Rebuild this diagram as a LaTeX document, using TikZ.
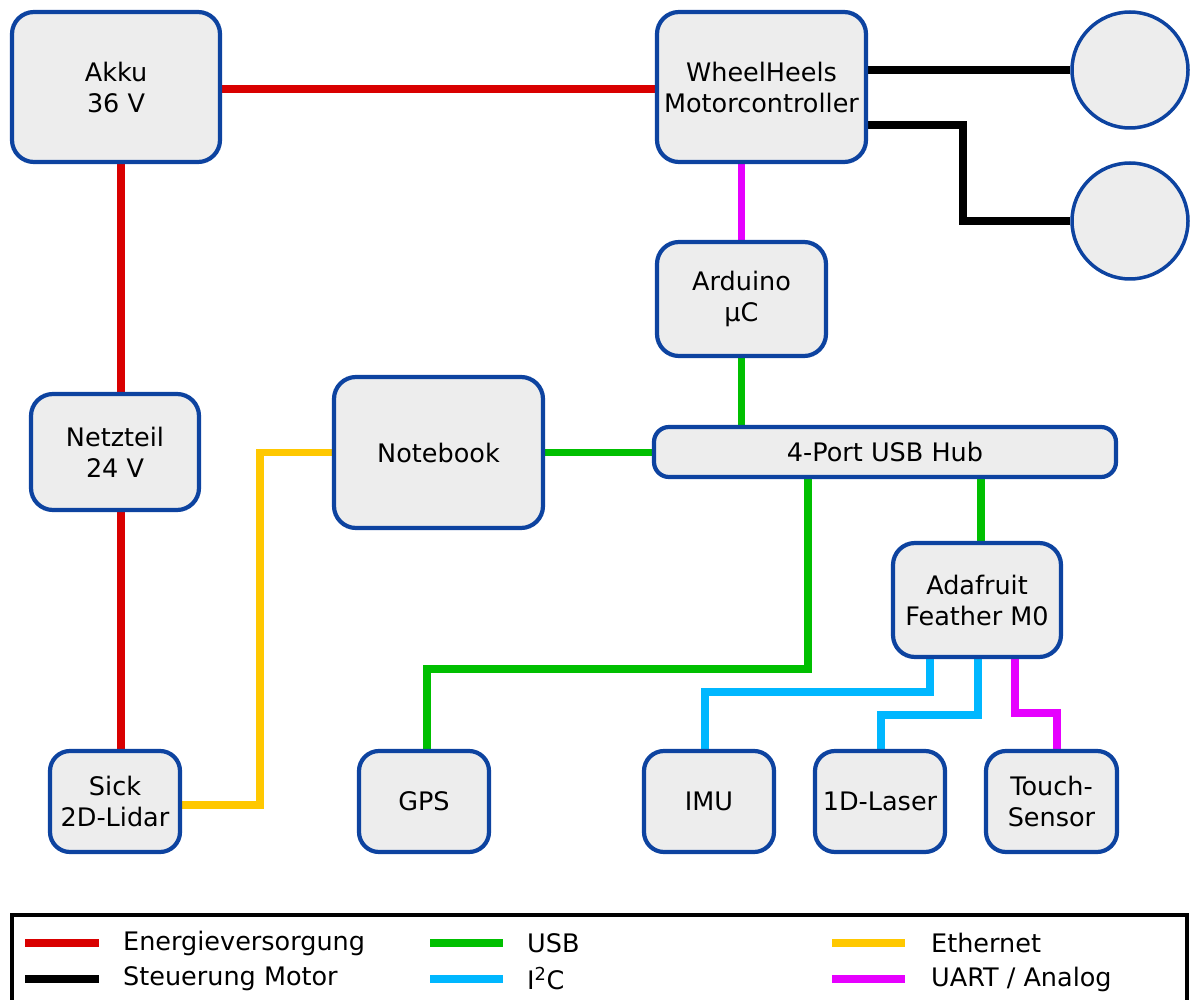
\documentclass[tikz,border=0pt]{standalone}
\usepackage{fontspec}
\setmainfont{DejaVu Sans}
\usetikzlibrary{backgrounds}
\definecolor{bordblue}{HTML}{0D43A0}
\definecolor{boxfill}{HTML}{EDEDED}
\definecolor{cred}{HTML}{D90000}
\definecolor{cgreen}{HTML}{00BF00}
\definecolor{ccyan}{HTML}{00B7FF}
\definecolor{corange}{HTML}{FFC800}
\definecolor{cmag}{HTML}{E600FF}
\begin{document}
\begin{tikzpicture}[x=1pt,y=-1pt,
  box/.style={draw=bordblue, fill=boxfill, line width=4.2pt, rounded corners=22pt,
    inner sep=0pt, align=center, font=\fontsize{25.5}{31}\selectfont},
  wheel/.style={draw=bordblue, fill=boxfill, line width=3.5pt, circle, inner sep=0pt, minimum size=116pt},
  wire/.style={line width=7.5pt, line join=miter},
  legline/.style={line width=7.5pt},
  legtext/.style={anchor=west, inner sep=0pt, font=\fontsize{25.5}{30}\selectfont}]
\useasboundingbox (0,0) rectangle (1192,1000);
\clip (0,0) rectangle (1192,1000);

% bend coordinates
\coordinate (r89) at (0,89);
\coordinate (rx) at (121,0);
\coordinate (b1) at (963,125);
\coordinate (b2) at (963,221);
\coordinate (o1) at (260,805);
\coordinate (o2) at (260,452.5);
\coordinate (g1) at (808,669);
\coordinate (g2) at (427,669);
\coordinate (a1) at (981,0);
\coordinate (c1a) at (930,692);
\coordinate (c1b) at (705,692);
\coordinate (c2a) at (978,715);
\coordinate (c2b) at (881,715);
\coordinate (m1a) at (1015,713);
\coordinate (m1b) at (1057,713);

% nodes
\node[box, minimum width=208pt, minimum height=150pt] (akku) at (116,87) {Akku\\36 V};
\node[box, minimum width=209pt, minimum height=150pt] (mc) at (761.5,87) {WheelHeels\\Motorcontroller};
\node[wheel] (w1) at (1130,70) {};
\node[wheel] (w2) at (1130,221) {};
\node[box, minimum width=169pt, minimum height=114pt] (ard) at (741.5,299) {Arduino\\µC};
\node[box, minimum width=462pt, minimum height=50pt, rounded corners=15pt] (hub) at (885,452) {4-Port USB Hub};
\node[box, minimum width=209pt, minimum height=151pt] (nb) at (438.5,452.5) {Notebook};
\node[box, minimum width=168pt, minimum height=116pt] (netz) at (115,452) {Netzteil\\24 V};
\node[box, minimum width=130pt, minimum height=101pt, rounded corners=20pt] (sick) at (115,801.5) {Sick\\2D-Lidar};
\node[box, minimum width=130pt, minimum height=101pt, rounded corners=20pt] (gps) at (424,801.5) {GPS};
\node[box, minimum width=168pt, minimum height=114pt] (ada) at (977,600) {Adafruit\\Feather M0};
\node[box, minimum width=130pt, minimum height=101pt, rounded corners=20pt] (imu) at (709,801.5) {IMU};
\node[box, minimum width=130pt, minimum height=101pt, rounded corners=20pt] (laser) at (880,801.5) {1D-Laser};
\node[box, minimum width=131pt, minimum height=101pt, rounded corners=20pt] (touch) at (1051.5,801.5) {Touch-\\Sensor};

% connectors (under the boxes)
\begin{scope}[on background layer]
\draw[wire, cred] (akku.east |- r89) -- (mc.west |- r89);
\draw[wire, cred] (akku.south -| rx) -- (netz.north -| rx);
\draw[wire, cred] (netz.south -| rx) -- (sick.north -| rx);
\draw[wire, black] (mc.east |- w1.west) -- (w1.west);
\draw[wire, black] (mc.east |- b1) -- (b1) -- (b2) -- (w2.west);
\draw[wire, cmag] (ard.north |- mc.south) -- (ard.north);
\draw[wire, cgreen] (ard.south) -- (ard.south |- hub.north);
\draw[wire, cgreen] (nb.east) -- (nb.east -| hub.west);
\draw[wire, corange] (sick.east |- o1) -- (o1) -- (o2) -- (nb.west |- o2);
\draw[wire, cgreen] (hub.south -| g1) -- (g1) -- (g2) -- (gps.north -| g2);
\draw[wire, cgreen] (hub.south -| a1) -- (ada.north -| a1);
\draw[wire, ccyan] (ada.south -| c1a) -- (c1a) -- (c1b) -- (imu.north -| c1b);
\draw[wire, ccyan] (ada.south -| c2a) -- (c2a) -- (c2b) -- (laser.north -| c2b);
\draw[wire, cmag] (ada.south -| m1a) -- (m1a) -- (m1b) -- (touch.north -| m1b);
\end{scope}

% legend
\draw[line width=4.5pt] (12,915) rectangle (1187,1020);
\draw[legline, cred] (25,943) -- (99,943);
\draw[legline, black] (25,979) -- (99,979);
\draw[legline, cgreen] (430,943) -- (503,943);
\draw[legline, ccyan] (430,979) -- (503,979);
\draw[legline, corange] (832,943) -- (905,943);
\draw[legline, cmag] (832,979) -- (905,979);
\node[legtext] (l1) at (123,943) {Energieversorgung};
\node[legtext] (l2) at (123,979) {Steuerung Motor};
\node[legtext] (l3) at (527,943) {USB};
\node[legtext] (l4) at (527,979) {I\textsuperscript{2}C};
\node[legtext] (l5) at (931,943) {Ethernet};
\node[legtext] (l6) at (931,979) {UART / Analog};
\end{tikzpicture}
\end{document}
